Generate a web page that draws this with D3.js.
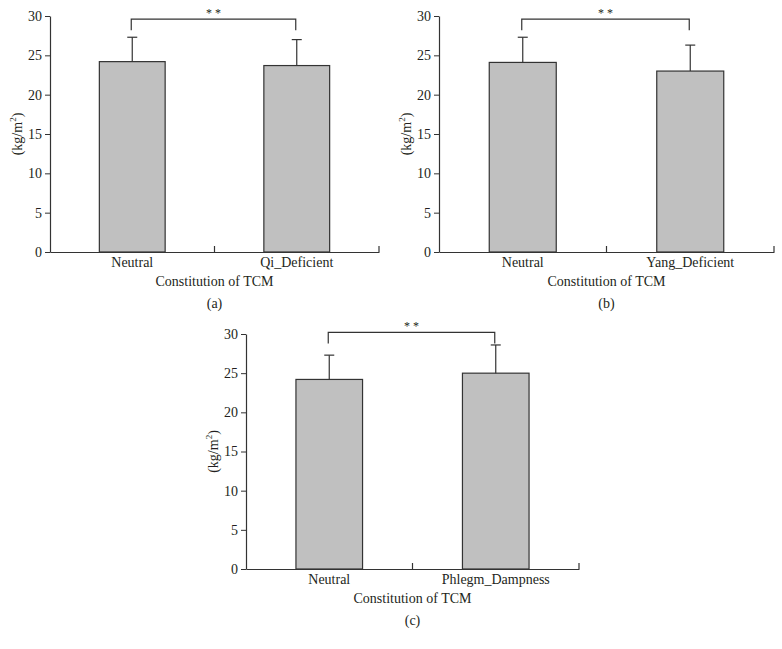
<!DOCTYPE html>
<html>
<head>
<meta charset="utf-8">
<script src="https://cdn.jsdelivr.net/npm/d3@7"></script>
<style>
  body { margin: 0; background: #fff; }
  text { font-family: "Liberation Serif", "Times New Roman", serif; fill: #231f20; }
</style>
</head>
<body>
<div id="d3-graph"></div>

<script>
// values (BMI, mean and SD)
const catsA = ["Neutral", "Qi_Deficient"];
const meanA = [24.2, 23.7];
const sdA   = [3.1, 3.3];

const catsB = ["Neutral", "Yang_Deficient"];
const meanB = [24.1, 23.0];
const sdB   = [3.2, 3.3];

const catsC = ["Neutral", "Phlegm_Dampness"];
const meanC = [24.2, 25.0];
const sdC   = [3.1, 3.6];

// significance bracket: top level and drop level (in kg/m2 units)
const bracketTop  = [29.6, 29.6, 30.2];
const bracketDrop = [28.2, 28.2, 28.8];
const sigLabel = "* *";

const yTicks = [0, 5, 10, 15, 20, 25, 30];
const xTitle = "Constitution of TCM";
const panelLetters = ["(a)", "(b)", "(c)"];

const svg = d3.select("#d3-graph")
  .append("svg")
    .attr("width", 782)
    .attr("height", 649);

// panel boxes: left/right of x axis, top/bottom of y axis
const panels = [
  {cats: catsA, mean: meanA, sd: sdA, x0: 50,  x1: 379, top: 16,  bottom: 252},
  {cats: catsB, mean: meanB, sd: sdB, x0: 439, x1: 774, top: 16,  bottom: 252},
  {cats: catsC, mean: meanC, sd: sdC, x0: 246, x1: 579, top: 334, bottom: 569}
];

const fs = 14;

panels.forEach(function(p, k) {
  const g = svg.append("g");

  const x = d3.scaleBand()
    .domain(p.cats)
    .range([p.x0, p.x1])
    .paddingInner(0.6)
    .paddingOuter(0.3);

  const y = d3.scaleLinear()
    .domain([0, 30])
    .range([p.bottom, p.top]);

  const data = p.cats.map(function(c, i) { return {cat: c, mean: p.mean[i], sd: p.sd[i]}; });

  // bars
  g.selectAll("rect.bar")
    .data(data)
    .join("rect")
      .attr("class", "bar")
      .attr("x", d => x(d.cat))
      .attr("width", x.bandwidth())
      .attr("y", d => y(d.mean))
      .attr("height", d => y(0) - y(d.mean))
      .attr("fill", "#c0c0c0")
      .attr("stroke", "#333")
      .attr("stroke-width", 1.2);

  // error bars (upper only)
  const cx = d => x(d.cat) + x.bandwidth() / 2;
  g.selectAll("line.err")
    .data(data)
    .join("line")
      .attr("class", "err")
      .attr("x1", cx).attr("x2", cx)
      .attr("y1", d => y(d.mean)).attr("y2", d => y(d.mean + d.sd))
      .attr("stroke", "#333").attr("stroke-width", 1.2);
  g.selectAll("line.cap")
    .data(data)
    .join("line")
      .attr("class", "cap")
      .attr("x1", d => cx(d) - 5).attr("x2", d => cx(d) + 5)
      .attr("y1", d => y(d.mean + d.sd)).attr("y2", d => y(d.mean + d.sd))
      .attr("stroke", "#333").attr("stroke-width", 1.2);

  // y axis
  const yAxis = g.append("g")
    .attr("transform", `translate(${p.x0},0)`)
    .call(d3.axisLeft(y).tickValues(yTicks).tickSize(5).tickSizeOuter(0).tickPadding(3));
  yAxis.select(".domain").attr("stroke", "#333").attr("stroke-width", 1.2);
  yAxis.selectAll(".tick line").attr("stroke", "#333");
  yAxis.selectAll(".tick text").attr("font-size", fs);

  // x axis: baseline, category labels, upward ticks at category boundaries
  const xAxis = g.append("g")
    .attr("transform", `translate(0,${p.bottom})`)
    .call(d3.axisBottom(x).tickSize(0).tickSizeOuter(0).tickPadding(5));
  xAxis.select(".domain").attr("stroke", "#333").attr("stroke-width", 1.2);
  xAxis.selectAll(".tick text").attr("font-size", fs);

  const bounds = p.cats.map((c, i) => p.x0 + x.step() * (i + 1));
  g.selectAll("line.xtick")
    .data(bounds)
    .join("line")
      .attr("class", "xtick")
      .attr("x1", d => d).attr("x2", d => d)
      .attr("y1", p.bottom).attr("y2", p.bottom - 6)
      .attr("stroke", "#333").attr("stroke-width", 1.2);

  // axis titles
  g.append("text")
    .attr("x", (p.x0 + p.x1) / 2)
    .attr("y", p.bottom + 34)
    .attr("text-anchor", "middle")
    .attr("font-size", fs)
    .text(xTitle);

  g.append("text")
    .attr("x", (p.x0 + p.x1) / 2)
    .attr("y", p.bottom + 56)
    .attr("text-anchor", "middle")
    .attr("font-size", fs)
    .text(panelLetters[k]);

  const yl = g.append("text")
    .attr("transform", `translate(${p.x0 - 28},${(p.top + p.bottom) / 2}) rotate(-90)`)
    .attr("text-anchor", "middle")
    .attr("font-size", fs);
  yl.append("tspan").text("(kg/m");
  yl.append("tspan").attr("font-size", 9).attr("dy", -6).text("2");
  yl.append("tspan").attr("dy", 6).text(")");

  // significance bracket
  const bx0 = cx(data[0]) - 1, bx1 = cx(data[1]) - 1;
  g.append("path")
    .attr("d", d3.line()([
      [bx0, y(bracketDrop[k])], [bx0, y(bracketTop[k])],
      [bx1, y(bracketTop[k])], [bx1, y(bracketDrop[k])]
    ]))
    .attr("fill", "none")
    .attr("stroke", "#333")
    .attr("stroke-width", 1.2);

  g.append("text")
    .attr("x", (bx0 + bx1) / 2)
    .attr("y", y(bracketTop[k]) - 2)
    .attr("text-anchor", "middle")
    .attr("font-size", 12)
    .text(sigLabel);
});
</script>
</body>
</html>
